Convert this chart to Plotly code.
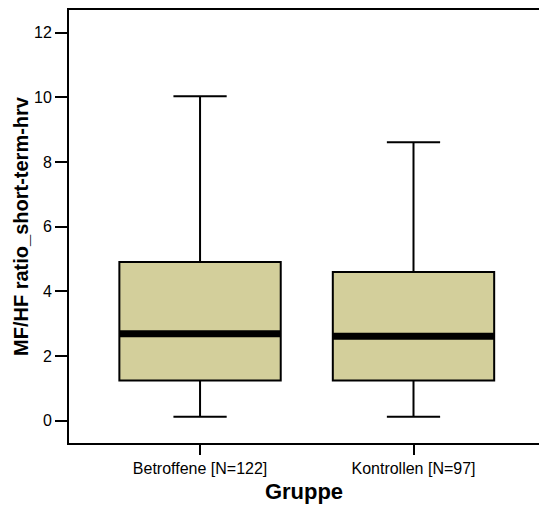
import plotly.graph_objects as go

groups = ["Betroffene [N=122]", "Kontrollen [N=97]"]
lower_whisker = [0.12, 0.12]
q1 = [1.24, 1.24]
median = [2.69, 2.61]
q3 = [4.91, 4.60]
upper_whisker = [10.03, 8.61]

y_ticks = [0, 2, 4, 6, 8, 10, 12]

box_width = 0.756
fill = "#d3cf9b"
pos = list(range(len(groups)))

fig = go.Figure()
fig.add_trace(go.Box(
    x=pos, q1=q1, median=median, q3=q3,
    lowerfence=lower_whisker, upperfence=upper_whisker,
    width=box_width, whiskerwidth=0.33,
    fillcolor=fill, line=dict(color="black", width=2),
    boxpoints=False, showlegend=False, hoverinfo="skip",
))
for i, m in zip(pos, median):
    fig.add_trace(go.Scatter(
        x=[i - box_width / 2, i + box_width / 2], y=[m, m],
        mode="lines", line=dict(color="black", width=7),
        showlegend=False, hoverinfo="skip",
    ))

font = "Liberation Sans, Arial, Helvetica, sans-serif"
fig.update_layout(
    width=539, height=509,
    margin=dict(l=69, r=0, t=10, b=66),
    paper_bgcolor="white", plot_bgcolor="white",
    font=dict(family=font, size=16, color="black"),
    xaxis=dict(
        range=[-0.614, 1.588], tickvals=pos, ticktext=groups,
        showline=True, mirror=True, linecolor="black", linewidth=2,
        ticks="outside", ticklen=10, tickwidth=2, tickcolor="black",
        showgrid=False, zeroline=False,
        tickfont=dict(size=16),
        title=dict(text="<b>Gruppe</b>", font=dict(size=22), standoff=7),
        automargin=False,
    ),
    yaxis=dict(
        range=[-0.69, 12.70], tickvals=y_ticks,
        showline=True, mirror=False, linecolor="black", linewidth=2,
        ticks="outside", ticklen=12, tickwidth=1.5, tickcolor="black",
        showgrid=False, zeroline=False,
        tickfont=dict(size=16),
        title=dict(text="<b>MF/HF ratio_short-term-hrv</b>", font=dict(size=20), standoff=0),
        automargin=False,
    ),
)

fig.write_html(
    "out.html",
    config={"displayModeBar": False},
    post_script="document.body.style.margin='0';document.body.style.overflow='hidden';",
)
